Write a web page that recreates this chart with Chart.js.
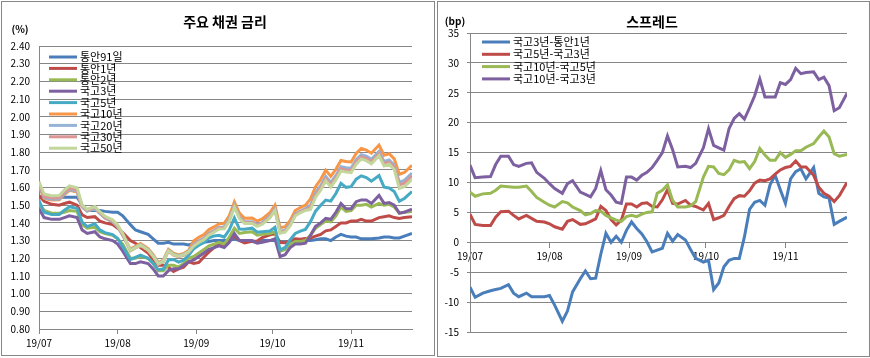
<!DOCTYPE html>
<html>
<head>
<meta charset="utf-8">
<script src="https://cdn.jsdelivr.net/npm/chart.js@4.4.1/dist/chart.umd.min.js"></script>
<style>
  body { margin: 0; background: #fff; }
  .panel { position: absolute; border: 1px solid #878787; box-sizing: border-box; background: #fff; }
  #p1 { left: 1px; top: 1px; width: 434px; height: 355px; }
  #p2 { left: 437px; top: 1px; width: 433px; height: 356px; }
  canvas { position: absolute; left: 0; top: 0; }
</style>
</head>
<body>
<div class="panel" id="p1"><canvas id="rates" width="432" height="353"></canvas></div>
<div class="panel" id="p2"><canvas id="spread" width="431" height="354"></canvas></div>
<script>
// x = calendar days since 2019-07-01
var days = [0,2,5,8,10, 12,15,17,19,22, 24,26,29,31,33, 36,38,40,43,45, 47,49,51,53,55,
  57,59,61,63,65, 67,69,71,73,75, 77,79,81,84,86, 88,91,93,95,97, 99,101,103,105,107,
  109,111,113,115,117, 119,121,123,125,127, 129,131,134,136,138, 140,142,144,147];
var monthTicks = [0, 31, 62, 92, 123];
var monthLabels = ['19/07', '19/08', '19/09', '19/10', '19/11'];

// 주요 채권 금리 (%)
var msb91d = [1.55,1.545,1.545,1.545,1.545, 1.545,1.545,1.50,1.47,1.47, 1.47,1.465,1.46,1.46,1.44,
  1.39,1.36,1.35,1.335,1.31, 1.285,1.285,1.29,1.28,1.28, 1.28,1.275,1.285,1.29,1.29,
  1.295,1.30,1.30,1.30,1.30, 1.31,1.30,1.295,1.295,1.29, 1.30,1.30,1.30,1.295,1.29,
  1.29,1.295,1.30,1.30,1.30, 1.305,1.31,1.31,1.30,1.32, 1.335,1.325,1.32,1.32,1.31,
  1.31,1.31,1.315,1.32,1.32, 1.315,1.315,1.325,1.34];
var msb1y = [1.555,1.522,1.505,1.50,1.51, 1.517,1.50,1.445,1.43,1.435, 1.41,1.40,1.39,1.37,1.345,
  1.30,1.285,1.26,1.23,1.19, 1.16,1.16,1.15,1.125,1.14, 1.15,1.18,1.17,1.176,1.207,
  1.236,1.26,1.286,1.273,1.30, 1.325,1.30,1.287,1.296,1.297, 1.317,1.333,1.34,1.289,1.288,
  1.30,1.31,1.307,1.312,1.315, 1.325,1.335,1.355,1.36,1.38, 1.40,1.40,1.41,1.41,1.42,
  1.41,1.41,1.43,1.435,1.44, 1.43,1.425,1.43,1.435];
var msb2y = [1.51,1.47,1.455,1.455,1.46, 1.47,1.465,1.39,1.37,1.375, 1.35,1.34,1.33,1.31,1.28,
  1.20,1.20,1.21,1.20,1.17, 1.13,1.13,1.16,1.16,1.15, 1.17,1.20,1.21,1.23,1.25,
  1.27,1.28,1.29,1.28,1.32, 1.37,1.34,1.345,1.35,1.33, 1.335,1.34,1.35,1.24,1.25,
  1.28,1.295,1.295,1.30,1.33, 1.37,1.39,1.41,1.405,1.44, 1.49,1.465,1.47,1.50,1.50,
  1.505,1.49,1.51,1.50,1.505, 1.49,1.455,1.46,1.465];
var ktb3y = [1.48,1.43,1.42,1.42,1.43, 1.44,1.43,1.36,1.34,1.35, 1.32,1.31,1.30,1.28,1.24,
  1.17,1.17,1.18,1.17,1.14, 1.10,1.10,1.13,1.14,1.14, 1.16,1.18,1.19,1.21,1.23,
  1.25,1.26,1.27,1.26,1.29, 1.34,1.30,1.30,1.30,1.285, 1.29,1.30,1.31,1.21,1.22,
  1.26,1.28,1.28,1.285,1.33, 1.38,1.40,1.425,1.42,1.46, 1.51,1.48,1.48,1.52,1.53,
  1.53,1.51,1.555,1.51,1.515, 1.50,1.455,1.46,1.477];
var ktb5y = [1.527,1.46,1.448,1.448,1.472, 1.491,1.482,1.405,1.379,1.395, 1.36,1.345,1.334,1.311,1.266,
  1.192,1.205,1.218,1.20,1.171, 1.135,1.139,1.19,1.193,1.178, 1.189,1.217,1.254,1.274,1.289,
  1.315,1.326,1.33,1.319,1.361, 1.428,1.365,1.364,1.37,1.347, 1.35,1.354,1.375,1.248,1.261,
  1.305,1.34,1.353,1.363,1.407, 1.466,1.499,1.529,1.523,1.566, 1.624,1.601,1.605,1.647,1.666,
  1.656,1.636,1.667,1.602,1.597, 1.577,1.523,1.538,1.577];
var ktb10y = [1.609,1.538,1.529,1.53,1.56, 1.584,1.574,1.49,1.467,1.482, 1.453,1.427,1.407,1.378,1.33,
  1.252,1.268,1.283,1.254,1.22, 1.176,1.19,1.25,1.228,1.219, 1.227,1.245,1.299,1.319,1.334,
  1.362,1.377,1.395,1.397,1.44, 1.518,1.455,1.426,1.427,1.41, 1.422,1.458,1.50,1.372,1.378,
  1.414,1.47,1.487,1.50,1.536, 1.605,1.645,1.698,1.663,1.703, 1.753,1.747,1.744,1.792,1.821,
  1.812,1.794,1.84,1.782,1.791, 1.762,1.675,1.685,1.726];
var ktb20y = [1.614,1.543,1.534,1.535,1.565, 1.589,1.579,1.49,1.467,1.482, 1.453,1.427,1.407,1.378,1.33,
  1.247,1.263,1.278,1.249,1.215, 1.171,1.185,1.245,1.223,1.214, 1.222,1.24,1.279,1.299,1.314,
  1.342,1.357,1.375,1.377,1.42, 1.498,1.435,1.406,1.407,1.39, 1.402,1.438,1.48,1.352,1.358,
  1.394,1.45,1.467,1.48,1.501, 1.57,1.61,1.663,1.628,1.668, 1.718,1.712,1.709,1.757,1.786,
  1.777,1.759,1.805,1.747,1.756, 1.727,1.63,1.64,1.681];
var ktb30y = [1.621,1.55,1.541,1.542,1.572, 1.596,1.586,1.495,1.472,1.487, 1.458,1.432,1.412,1.383,1.335,
  1.242,1.258,1.273,1.244,1.21, 1.166,1.18,1.24,1.218,1.209, 1.217,1.235,1.274,1.294,1.309,
  1.337,1.352,1.37,1.372,1.415, 1.493,1.43,1.401,1.402,1.385, 1.397,1.433,1.475,1.347,1.353,
  1.389,1.445,1.462,1.475,1.488, 1.557,1.597,1.65,1.615,1.655, 1.705,1.699,1.696,1.744,1.773,
  1.764,1.746,1.792,1.734,1.743, 1.714,1.615,1.625,1.666];
var ktb50y = [1.634,1.563,1.554,1.555,1.585, 1.609,1.599,1.50,1.477,1.492, 1.463,1.437,1.417,1.388,1.34,
  1.244,1.26,1.275,1.246,1.212, 1.168,1.182,1.242,1.22,1.211, 1.219,1.237,1.269,1.289,1.304,
  1.332,1.347,1.365,1.367,1.41, 1.488,1.425,1.396,1.397,1.38, 1.392,1.428,1.47,1.342,1.348,
  1.384,1.44,1.457,1.47,1.476, 1.545,1.585,1.638,1.603,1.643, 1.693,1.687,1.684,1.732,1.761,
  1.752,1.734,1.78,1.722,1.731, 1.702,1.595,1.605,1.646];
var rateNames = ['통안91일', '통안1년', '통안2년', '국고3년', '국고5년', '국고10년', '국고20년', '국고30년', '국고50년'];
var rateColors = ['#4A7EBB', '#BE4B48', '#98B954', '#7D60A0', '#46AAC5', '#F79646', '#95B3D7', '#D99694', '#C3D69B'];

// 스프레드 (bp)
var spread3y1y = [-7.5,-9.2,-8.5,-8.1,-7.9, -7.7,-7.1,-8.5,-9.1,-8.5, -9.1,-9.1,-9.1,-8.9,-10.5,
  -13.2,-11.5,-8.3,-6.1,-4.8, -6.1,-6.0,-2.0,1.5,0.0, 1.0,0.0,2.0,3.4,2.3,
  1.4,0.1,-1.6,-1.3,-1.0, 1.5,0.2,1.3,0.4,-1.2, -2.7,-3.3,-3.0,-7.9,-6.8,
  -4.1,-3.0,-2.7,-2.7,0.9, 5.5,6.7,7.0,6.2,9.6, 11.2,8.8,6.5,10.6,11.8,
  12.3,10.6,12.5,8.2,7.6, 7.4,3.0,3.5,4.2];
var spread5y3y = [4.7,3.0,2.8,2.8,4.2, 5.1,5.2,4.5,3.9,4.5, 4.0,3.5,3.4,3.1,2.6,
  2.2,3.5,3.8,3.0,3.1, 3.5,3.9,6.0,5.3,3.8, 2.9,3.7,6.4,6.4,5.9,
  6.5,6.6,6.0,5.9,7.1, 8.8,6.5,6.4,7.0,6.2, 6.0,5.4,6.5,3.8,4.1,
  4.5,6.0,7.3,7.8,7.7, 8.6,9.9,10.4,10.3,10.6, 11.4,12.1,12.5,12.7,13.6,
  12.6,12.6,11.2,9.2,8.2, 7.7,6.8,7.8,10.0];
var spread10y5y = [8.4,7.7,8.1,8.2,8.7, 9.4,9.3,9.2,9.2,9.4, 8.5,7.5,6.7,6.2,5.9,
  6.8,6.6,5.9,5.3,4.6, 4.8,5.3,5.2,4.5,4.1, 3.7,3.5,4.3,4.5,4.3,
  4.7,5.0,5.1,8.2,8.7, 9.6,7.0,5.9,5.9,6.1, 6.8,10.9,12.7,12.6,11.5,
  11.3,12.1,13.7,13.4,13.5, 12.3,13.5,15.7,14.6,13.7, 13.7,15.0,14.2,14.7,15.3,
  15.3,15.9,16.5,17.6,18.6, 17.6,14.8,14.4,14.7];
var spread10y3y = [12.9,10.8,10.9,11.0,13.0, 14.4,14.4,13.0,12.7,13.2, 13.3,11.7,10.7,9.8,9.0,
  8.2,9.8,10.3,8.4,8.0, 7.6,9.0,12.0,8.8,7.9, 6.7,6.5,10.9,10.9,10.4,
  11.2,11.7,12.5,13.7,15.0, 17.8,15.5,12.6,12.7,12.5, 13.2,15.8,19.0,16.2,15.8,
  15.4,19.0,20.7,21.5,20.6, 22.5,24.5,27.3,24.3,24.3, 24.3,26.7,26.4,27.2,29.1,
  28.2,28.4,28.5,27.2,27.6, 26.2,22.0,22.5,24.9];
var spreadNames = ['국고3년-통안1년', '국고5년-국고3년', '국고10년-국고5년', '국고10년-국고3년'];
var spreadColors = ['#4A7EBB', '#BE4B48', '#98B954', '#7D60A0'];

var FONT = '"Noto Sans CJK KR", "Noto Sans", sans-serif';
var GRID = '#868686';

function toPoints(values) {
  return days.map(function (d, i) { return { x: d, y: values[i] }; });
}

function makeDatasets(series, names, colors) {
  return series.map(function (vals, i) {
    return {
      label: names[i],
      data: toPoints(vals),
      borderColor: colors[i],
      borderWidth: 3,
      pointRadius: 0,
      tension: 0,
      order: series.length - i   // later series on top, like excel
    };
  });
}

// title, unit text and the in-plot legend
var panelText = {
  id: 'panelText',
  afterDatasetsDraw: function (chart, args, opts) {
    var ctx = chart.ctx;
    ctx.save();
    ctx.fillStyle = '#000';
    ctx.textBaseline = 'middle';
    ctx.textAlign = 'center';
    ctx.font = 'bold 14px ' + FONT;
    ctx.fillText(opts.title, opts.titleX, opts.titleY);
    ctx.font = 'bold 10px ' + FONT;
    ctx.fillText(opts.unit, opts.unitX, opts.unitY);

    ctx.textAlign = 'left';
    ctx.font = '11px ' + FONT;
    ctx.lineWidth = 3;
    chart.data.datasets.forEach(function (ds, i) {
      var y = opts.legendY + i * opts.legendStep;
      ctx.strokeStyle = ds.borderColor;
      ctx.beginPath();
      ctx.moveTo(opts.legendX, y);
      ctx.lineTo(opts.legendX + 28, y);
      ctx.stroke();
      ctx.fillText(ds.label, opts.legendX + 31, y);
    });
    ctx.restore();
  }
};

function monthAxis(extra) {
  var axis = {
    type: 'linear',
    min: 0,
    max: 147,
    afterBuildTicks: function (scale) {
      scale.ticks = monthTicks.map(function (v) { return { value: v }; });
    },
    grid: { drawOnChartArea: false, tickLength: 5, color: GRID },
    border: { color: GRID },
    ticks: {
      autoSkip: false,
      maxRotation: 0,
      padding: 3,
      color: '#000',
      font: { family: FONT, size: 10 },
      callback: function (value) { return monthLabels[monthTicks.indexOf(value)]; }
    }
  };
  for (var k in extra) axis[k] = extra[k];
  return axis;
}

new Chart(document.getElementById('rates'), {
  type: 'line',
  data: {
    datasets: makeDatasets([msb91d, msb1y, msb2y, ktb3y, ktb5y, ktb10y, ktb20y, ktb30y, ktb50y], rateNames, rateColors)
  },
  options: {
    responsive: false,
    animation: false,
    layout: { padding: { top: 44, right: 22, left: 0, bottom: 0 } },
    plugins: {
      legend: { display: false },
      tooltip: { enabled: false },
      panelText: {
        title: '주요 채권 금리', titleX: 223, titleY: 20,
        unit: '(%)', unitX: 18, unitY: 27,
        legendX: 47, legendY: 55, legendStep: 11.4
      }
    },
    scales: {
      x: monthAxis({ afterFit: function (s) { s.height = 26; } }),
      y: {
        min: 0.8,
        max: 2.4,
        afterFit: function (s) { s.width = 37; },
        grid: { color: GRID, drawTicks: false },
        border: { color: GRID },
        ticks: {
          stepSize: 0.1,
          padding: 9,
          color: '#000',
          font: { family: FONT, size: 10 },
          callback: function (v) { return v.toFixed(2); }
        }
      }
    }
  },
  plugins: [panelText]
});

new Chart(document.getElementById('spread'), {
  type: 'line',
  data: {
    datasets: makeDatasets([spread3y1y, spread5y3y, spread10y5y, spread10y3y], spreadNames, spreadColors)
  },
  options: {
    responsive: false,
    animation: false,
    layout: { padding: { top: 31, right: 22, left: 0, bottom: 24 } },
    plugins: {
      legend: { display: false },
      tooltip: { enabled: false },
      panelText: {
        title: '스프레드', titleX: 214, titleY: 20,
        unit: '(bp)', unitX: 17, unitY: 19,
        legendX: 44, legendY: 40, legendStep: 12.3
      }
    },
    scales: {
      x: monthAxis({ position: { y: 0 } }),
      y: {
        min: -15,
        max: 35,
        afterFit: function (s) { s.width = 32; },
        grid: { color: GRID, tickLength: 3 },
        border: { color: GRID },
        ticks: {
          stepSize: 5,
          padding: 8,
          color: '#000',
          font: { family: FONT, size: 10 }
        }
      }
    }
  },
  plugins: [panelText]
});
</script>
</body>
</html>
